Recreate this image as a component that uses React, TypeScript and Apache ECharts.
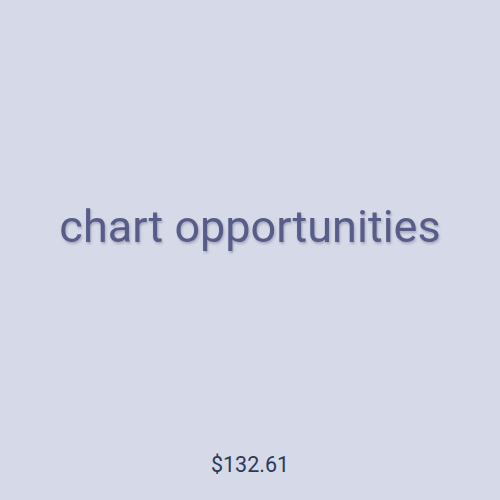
import React, { useEffect, useRef } from 'react';
import * as echarts from 'echarts';

const headline = 'chart opportunities';
const totals = [132.61];

const App: React.FC = () => {
    const chartRef = useRef<HTMLDivElement>(null);

    useEffect(() => {
        document.body.style.margin = '0';
        if (!chartRef.current) return;
        const chart = echarts.init(chartRef.current, undefined, { renderer: 'svg' });

        const option: echarts.EChartsOption = {
            animation: false,
            backgroundColor: '#d6d9e8',
            title: [
                {
                    text: headline,
                    left: 'center',
                    top: 199,
                    textStyle: {
                        fontFamily: 'Roboto',
                        fontSize: 45,
                        fontWeight: 'normal',
                        color: '#585c88',
                        textShadowColor: 'rgba(60, 60, 90, 0.3)',
                        textShadowBlur: 2,
                        textShadowOffsetX: 1,
                        textShadowOffsetY: 2,
                    },
                },
                {
                    text: '$' + totals[0].toFixed(2),
                    left: 'center',
                    top: 448,
                    textStyle: {
                        fontFamily: 'Roboto',
                        fontSize: 21.5,
                        fontWeight: 'normal',
                        color: '#2d3a57',
                    },
                },
            ],
        };

        chart.setOption(option);
        return () => chart.dispose();
    }, []);

    return <div ref={chartRef} style={{ width: 500, height: 500 }} />;
};

export default App;
